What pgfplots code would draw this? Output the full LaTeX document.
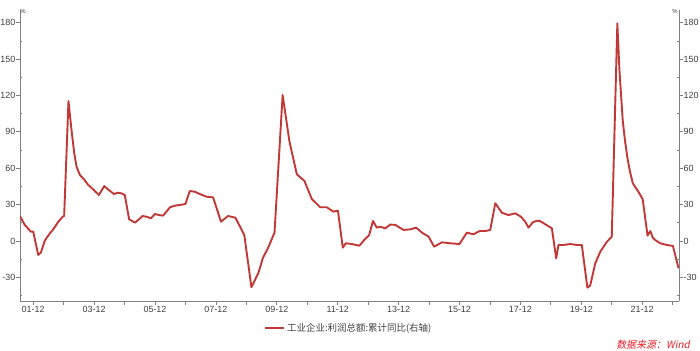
\documentclass[border=0pt]{standalone}
\usepackage{pgfplots}
\pgfplotsset{compat=1.18}
\usepackage{pgfplotstable}
\usepackage{fontspec}
\setmainfont{Liberation Sans}
\newfontfamily\cjk{Noto Sans CJK SC}
\newfontfamily\cjkit[FakeSlant=0.2]{Noto Sans CJK SC}
\definecolor{linered}{RGB}{192,57,55}
\definecolor{axgray}{RGB}{128,128,128}
\definecolor{txtgray}{RGB}{64,64,64}
\definecolor{srcred}{RGB}{230,30,40}

% m = months after 2001-12, v = cumulative YoY (%)
\pgfplotstableread{
m v
-5.2 20.6
-3.3 13.2
-0.9 7.7
0 7.8
2 -11.5
3 -9.6
4.6 0.3
5.6 3.5
6.6 6.3
7.9 9.6
9.9 15.9
11.6 20
12.2 20.6
13.9 115.4
15.1 91.5
16.2 72
17.1 61.3
18.4 54.4
20 50.9
21.7 46.2
23.6 42.6
25.9 37.9
28 45.3
29.8 42
31.9 38.7
33.2 39.8
34.8 39.3
36.1 37.9
37.8 17.9
40.1 15.1
41.7 17.9
43.1 20.6
44.7 20
46.4 18.7
48 22.3
49.5 21.4
51.2 20.9
53.9 27.8
55.8 29.1
57.8 29.7
60 30.5
61.7 41.2
63.7 40.6
65.7 38.7
68.3 36.5
70.9 36
74 15.9
76.8 20.6
79.7 19.2
83.2 4.9
86 -38.2
88.8 -26.1
90.5 -14
92.5 -6
95.1 6.9
98.3 120.4
101 81.9
103.9 55
106.9 49.5
109.8 34.6
113.1 27.8
115.7 27.8
118.3 24.2
120.1 25
122 -5.5
123.2 -1.9
125.6 -2.5
128.5 -3.9
130.8 1.6
132.4 4.9
133.9 16.5
135.4 11
136.8 11.8
138.7 10.4
140.7 13.5
142.7 13.3
145.9 9.1
148.6 9.6
150.9 11
153.2 6.9
155.8 3.6
158 -4.7
161.1 -1.1
164.3 -1.9
168 -2.5
170.9 6.9
173.5 5.5
175.9 8.2
178.1 8.2
180.1 9.1
182.1 31.1
184.7 23.3
187.3 21.4
190 22.8
192.2 20
193.9 15.9
195.2 11
196.9 15.4
198.5 16.7
199.8 16.3
204.4 10.5
206.1 -14.3
207 -3.3
209 -3.3
211.7 -2.5
214.3 -3.3
216.2 -3.3
218.4 -38.5
219.5 -36.8
221.5 -18.4
223.5 -8.8
226.1 -0.6
228 3.5
230.2 179.5
231 142
232.3 100
233.2 83
234.2 68.2
235.2 57
236.3 47.6
237.4 44
238.5 40.6
240.2 34.4
242.1 4.4
243.2 8.2
244.1 3
245.1 0.8
247.1 -1.9
249.7 -3.3
252.1 -4.1
254.3 -22.5
}\profit

\pgfplotsset{
  commonax/.style={
    at={(20bp,50bp)}, anchor=south west,
    width=659bp, height=291bp, scale only axis,
    xmin=-5.2, xmax=254.5, ymin=-49.5, ymax=190.5,
    axis line style={axgray, line width=0.8bp},
    ytick={-30,0,...,180}, minor ytick={-45,-15,...,165},
    tick style={axgray, line width=0.8bp},
    major tick length=3.5bp, minor tick length=2bp,
    tick align=outside,
    ticklabel style={font=\fontsize{9}{10}\selectfont, text=txtgray},
    /pgf/number format/assume math mode=true,
    yticklabel style={inner sep=1bp},
  }
}

\begin{document}
\begin{tikzpicture}
\path[use as bounding box] (0,0) rectangle (700bp,351bp);
\begin{axis}[
  commonax,
  axis x line*=bottom, axis y line*=left,
  minor y tick style={xshift=2bp},
  xtick={0,12,...,252},
  xticklabels={01-12,,03-12,,05-12,,07-12,,09-12,,11-12,,13-12,,15-12,,17-12,,19-12,,21-12,},
  xticklabel style={inner sep=1bp, yshift=-1bp},
  legend style={at={(0.499,-0.093)}, anchor=center, draw=none, fill=none,
    font=\cjk\fontsize{9.5}{11}\selectfont, text=txtgray, inner sep=0pt},
  legend cell align=left,
  legend image code/.code={\draw[#1] (0bp,0bp) -- (19bp,0bp);},
]
\addplot[linered, line width=1.9bp, line join=round] table[x=m, y=v] {\profit};
\addlegendentry{工业企业:利润总额:累计同比(右轴)}
\end{axis}
\begin{axis}[
  commonax,
  axis x line=none, axis y line*=right,
  minor y tick style={xshift=-2bp},
]
\end{axis}
\node[font=\fontsize{6}{7}\selectfont, text=txtgray, inner sep=0pt] at (23bp,340bp) {\%};
\node[font=\fontsize{6}{7}\selectfont, text=txtgray, inner sep=0pt] at (675bp,340bp) {\%};
\node[anchor=east, font=\cjkit\fontsize{10}{12}\selectfont, text=srcred, inner sep=0pt] at (690bp,6bp) {数据来源：Wind};
\end{tikzpicture}
\end{document}
